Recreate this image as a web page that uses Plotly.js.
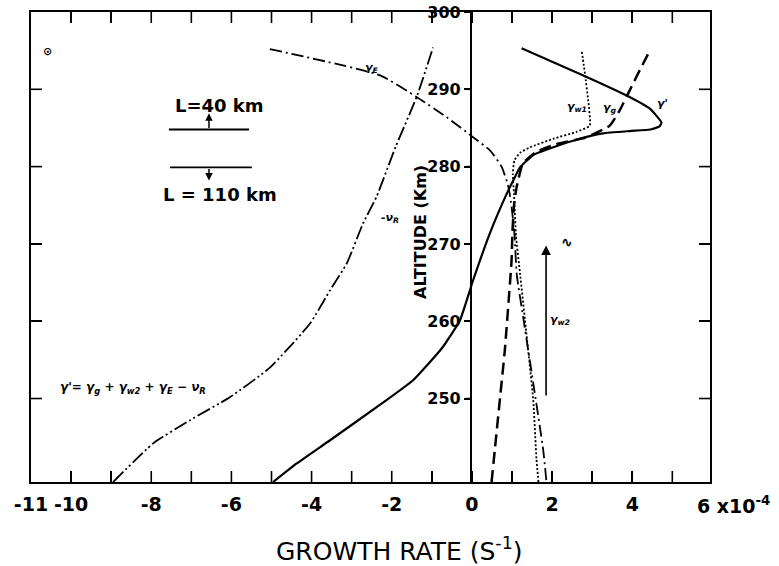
<!DOCTYPE html>
<html><head><meta charset="utf-8">
<script src="https://cdn.plot.ly/plotly-3.0.1.min.js"></script>
<style>body{margin:0;background:#fff}</style>
</head><body><div id="chart" style="width:779px;height:566px"></div>
<script>
// ---- data (growth rate in 1e-4 s^-1, altitude in km) ----
const xRange = [-11, 5.94];
const altRange = [239.2, 300];
const xTickVals = [-11,-10,-9,-8,-7,-6,-5,-4,-3,-2,-1,0,1,2,3,4,5];
const xTickText = ['-11','-10','','-8','','-6','','-4','','-2','','0','','2','','4',''];
const frameAltTicks = [250,260,270,280,290];
const altTickVals = [250,260,270,280,290,300];
const altTickText = ['250','260','270','280','290','300'];

// -nu_R
const nuR_x   = [-8.95,-7.95,-7.03,-6.03,-5.04,-4.04,-3.54,-3.12,-2.72,-2.38,-1.90,-1.38,-0.97];
const nuR_alt = [239.2,244.2,247.2,250.2,254.0,259.7,264.0,267.5,272.6,276.1,282.6,289.0,295.4];
// gamma_E
const gE_x    = [-5.04,-2.29,-1.38,-0.63,0.03,0.45,0.74,0.91,0.99,1.06,1.12,1.28,1.53,1.78,1.86];
const gE_alt  = [295.2,291.8,289.0,286.4,283.8,282.1,280.0,277.4,274.8,271.4,266.0,260.5,252.0,243.3,239.2];
// gamma_w1 (dotted)
const gW_x    = [1.66,1.61,1.53,1.36,1.20,1.10,1.05,1.02,1.06,1.20,1.45,2.03,2.61,2.94,2.90,2.82,2.74];
const gW_alt  = [239.2,242.2,249.8,258.4,266.2,271.0,276.5,279.0,280.8,281.8,282.5,283.6,284.5,285.3,288.6,292.0,295.0];
// gamma_g (dashed)
const gG_x    = [0.49,0.57,0.70,0.82,0.99,1.01,1.05,1.11,1.27,1.60,2.10,2.86,3.44,3.69,3.94,4.19,4.44];
const gG_alt  = [239.2,243.3,250.0,256.2,267.9,271.4,275.0,277.2,280.4,281.9,282.9,283.8,285.3,287.3,289.9,292.5,295.0];
// gamma' total (solid)
const gT_x    = [-4.96,-4.37,-3.54,-2.29,-1.46,-0.75,-0.30,0.03,0.45,0.87,1.03,1.20,1.53,2.03,2.69,3.27,3.94,4.45,4.68,4.73,4.60,4.44,3.86,2.78,1.24];
const gT_alt  = [239.2,241.6,244.6,249.2,252.4,256.5,260.1,265.3,271.4,276.5,278.2,279.9,281.5,282.5,283.6,284.3,284.6,284.8,285.2,285.7,286.6,287.5,289.2,291.8,295.3];
// gamma_w2 arrow
const arrowX = 1.85, arrowFrom = 250.2, arrowTo = 269.8;

// ---- tick marks drawn as short segments from the tick arrays (plot area 679 x 470 px) ----
const xPerPx = (xRange[1]-xRange[0])/679, altPerPx = (altRange[1]-altRange[0])/470;
function vTicks(vals, base, len){ const X=[],Y=[]; vals.forEach(v=>{X.push(v,v,null);Y.push(base,base+len,null);}); return {X,Y}; }
function hTicks(vals, base, len){ const X=[],Y=[]; vals.forEach(v=>{X.push(base,base+len,null);Y.push(v,v,null);}); return {X,Y}; }
const tBot = vTicks(xTickVals.slice(1), altRange[0], 11*altPerPx);
const tTop = vTicks(xTickVals.slice(1), altRange[1], -11*altPerPx);
const tLeft = hTicks(frameAltTicks, xRange[0], 11*xPerPx);
const tRight = hTicks(frameAltTicks, xRange[1], -11*xPerPx);
const tMid = hTicks(frameAltTicks, 0, -6*xPerPx);
const tickLine = {color:'#000', width:1.6};
const tickTrace = t => ({x:t.X, y:t.Y, mode:'lines', line:tickLine, hoverinfo:'skip', cliponaxis:false});

const traces = [
  {x:nuR_x, y:nuR_alt, mode:'lines', line:{color:'#000', width:1.8, dash:'14px,3px,2px,3px,2px,3px', shape:'spline', smoothing:0.5}},
  {x:gE_x, y:gE_alt, mode:'lines', line:{color:'#000', width:1.8, dash:'12px,4px,2px,4px', shape:'spline', smoothing:0.5}},
  {x:gW_x, y:gW_alt, mode:'lines', line:{color:'#000', width:1.8, dash:'2px,2px', shape:'spline', smoothing:0.4}},
  {x:gG_x, y:gG_alt, mode:'lines', line:{color:'#000', width:2.5, dash:'12px,6px', shape:'spline', smoothing:0.4}},
  {x:gT_x, y:gT_alt, mode:'lines', line:{color:'#000', width:2.2, shape:'spline', smoothing:0.4}},
  tickTrace(tBot), tickTrace(tTop), tickTrace(tLeft), tickTrace(tRight), tickTrace(tMid),
  {x:[null], y:[null], xaxis:'x2', yaxis:'y2', mode:'lines', hoverinfo:'skip'}
];

const tickFont = {family:'DejaVu Sans', size:19, color:'#000', weight:'bold'};
const lblFont = {family:'DejaVu Sans', size:11, color:'#000', style:'italic', weight:'bold'};
const axPos = 11/16.94;

const layout = {
  width:779, height:566, showlegend:false,
  paper_bgcolor:'#fff', plot_bgcolor:'rgba(0,0,0,0)',
  margin:{l:31, r:69, t:12, b:84},
  xaxis:{range:xRange, tickvals:xTickVals, ticktext:xTickText, ticks:'inside', ticklen:11, tickwidth:1.5, tickcolor:'#000',
         showline:true, linewidth:2, linecolor:'#000', mirror:'ticks', showgrid:false, zeroline:false,
         tickfont:tickFont, ticklabelstandoff:4},
  yaxis:{range:altRange, tickvals:frameAltTicks, ticks:'inside', ticklen:11, tickwidth:1.5, tickcolor:'#000',
         showline:true, linewidth:2, linecolor:'#000', mirror:'ticks', showgrid:false, zeroline:false,
         showticklabels:false},
  xaxis2:{domain:[axPos,1], range:[0,1], visible:false, anchor:'y2'},
  yaxis2:{range:altRange, domain:[0,1], anchor:'x2', side:'left',
          tickvals:altTickVals, ticktext:altTickText, ticks:'outside', ticklen:6, tickwidth:2, tickcolor:'#000',
          showline:true, linewidth:2, linecolor:'#000', showgrid:false, zeroline:false,
          tickfont:{family:'DejaVu Sans', size:16, color:'#000', weight:'bold'}},
  shapes:[
    {type:'line', xref:'x', yref:'y', x0:-7.56, x1:-5.56, y0:284.8, y1:284.8, line:{color:'#000', width:1.8}},
    {type:'line', xref:'x', yref:'y', x0:-7.53, x1:-5.49, y0:279.9, y1:279.9, line:{color:'#000', width:1.8}}
  ],
  annotations:[
    {xref:'x', yref:'y', x:-6.56, y:286.9, ax:-6.56, ay:284.8, axref:'x', ayref:'y', text:'', showarrow:true, arrowhead:2, arrowsize:1, arrowwidth:1.5, arrowcolor:'#000'},
    {xref:'x', yref:'y', x:-6.56, y:278.2, ax:-6.56, ay:279.9, axref:'x', ayref:'y', text:'', showarrow:true, arrowhead:2, arrowsize:1, arrowwidth:1.5, arrowcolor:'#000'},
    {xref:'x', yref:'y', x:arrowX, y:arrowTo, ax:arrowX, ay:arrowFrom, axref:'x', ayref:'y', text:'', showarrow:true, arrowhead:2, arrowsize:1.2, arrowwidth:1.6, arrowcolor:'#000'},
    {xref:'x', yref:'y', x:-6.29, y:287.9, text:'L=40 km', showarrow:false, font:{family:'DejaVu Sans', size:18, color:'#000', weight:'bold'}},
    {xref:'x', yref:'y', x:-6.29, y:276.4, text:'L = 110 km', showarrow:false, font:{family:'DejaVu Sans', size:18, color:'#000', weight:'bold'}},
    {xref:'x', yref:'y', x:-10.6, y:294.9, text:'⊙', showarrow:false, font:{family:'DejaVu Sans', size:11, color:'#000', weight:'bold'}},
    {xref:'x', yref:'y', x:-8.45, y:251.4, text:"γ'= γ<sub>g</sub> + γ<sub>w2</sub> + γ<sub>E</sub> − ν<sub>R</sub>", showarrow:false, font:{family:'DejaVu Sans', size:12, color:'#000', style:'italic', weight:'bold'}},
    {xref:'x', yref:'y', x:-2.49, y:292.8, text:'γ<sub>E</sub>', showarrow:false, font:lblFont},
    {xref:'x', yref:'y', x:-2.05, y:273.3, text:'-ν<sub>R</sub>', showarrow:false, font:lblFont},
    {xref:'x', yref:'y', x:2.62, y:287.7, text:'γ<sub>w1</sub>', showarrow:false, font:lblFont},
    {xref:'x', yref:'y', x:3.44, y:287.6, text:'γ<sub>g</sub>', showarrow:false, font:lblFont},
    {xref:'x', yref:'y', x:4.76, y:288.2, text:"γ'", showarrow:false, font:lblFont},
    {xref:'x', yref:'y', x:2.2, y:260.1, text:'γ<sub>w2</sub>', showarrow:false, font:lblFont},
    {xref:'x', yref:'y', x:2.37, y:270.2, text:'∿', showarrow:false, font:{family:'DejaVu Sans', size:14, color:'#000', weight:'bold'}},
    {xref:'paper', yref:'paper', x:(420-31)/679, y:(482-232)/470, text:'ALTITUDE (Km)', textangle:-90, showarrow:false,
     font:{family:'DejaVu Sans', size:16, color:'#000', weight:'bold'}},
    {xref:'paper', yref:'paper', x:(695-31)/679, y:(482-505)/470, xanchor:'left', yanchor:'middle', text:'6 x10<sup>-4</sup>', showarrow:false,
     font:{family:'DejaVu Sans', size:19, color:'#000', weight:'bold'}},
    {xref:'paper', yref:'paper', x:(399-31)/679, y:(482-549)/470, xanchor:'center', yanchor:'middle', text:'GROWTH RATE (S<sup>-1</sup>)', showarrow:false,
     font:{family:'DejaVu Sans', size:25, color:'#000'}}
  ]
};
Plotly.newPlot('chart', traces, layout, {displayModeBar:false, staticPlot:true});
</script></body></html>
